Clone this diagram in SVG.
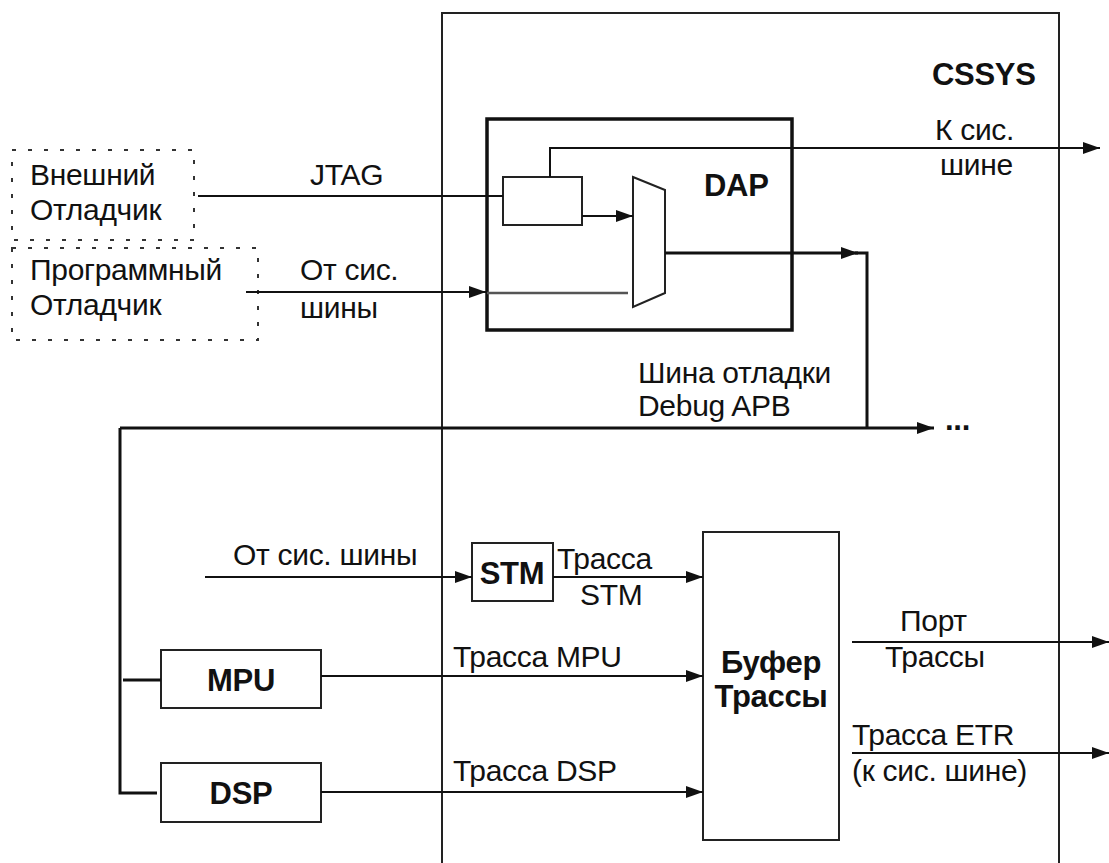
<svg xmlns="http://www.w3.org/2000/svg" width="1109" height="863" viewBox="0 0 1109 863">
<style>
text{font-family:"Liberation Sans",Arial,sans-serif;font-size:30px;fill:#111;letter-spacing:-0.3px}
.b{font-weight:bold;font-size:31px}
.ln{fill:none;stroke:#111;stroke-width:2}
.th{fill:none;stroke:#111;stroke-width:3}
.box{fill:#fff;stroke:#222;stroke-width:2}
.dash{fill:none;stroke:#333;stroke-width:2;stroke-dasharray:4 12}
</style>
<defs>
<marker id="ar" markerUnits="userSpaceOnUse" markerWidth="17" markerHeight="12" refX="17" refY="6" orient="auto"><path d="M0,0 L17,6 L0,12 z" fill="#111"/></marker>
</defs>
<rect width="1109" height="863" fill="#fff"/>
<g id="cssys"><rect x="442" y="13" width="617" height="900" class="box" fill="none"/><text x="932" y="85" class="b">CSSYS</text></g>
<g id="dap"><rect x="487" y="119" width="305" height="211" fill="none" stroke="#111" stroke-width="3.5"/><text x="704" y="196" class="b">DAP</text></g>
<g id="dap-port"><rect x="503" y="177" width="79" height="48" class="box"/></g>
<g id="mux"><polygon points="633,177 665,190 665,293 633,307" class="box"/></g>
<g id="ext-dbg"><rect x="12" y="150" width="182" height="90" class="dash"/><text x="30" y="185">Внешний</text><text x="30" y="220">Отладчик</text></g>
<g id="sw-dbg"><rect x="12" y="248" width="246" height="92" class="dash"/><text x="30" y="280">Программный</text><text x="30" y="315">Отладчик</text></g>
<g id="stm"><rect x="472" y="543" width="81" height="58" class="box"/><text x="512" y="584" class="b" text-anchor="middle">STM</text></g>
<g id="mpu"><rect x="161" y="650" width="160" height="58" class="box"/><text x="241" y="691" class="b" text-anchor="middle">MPU</text></g>
<g id="dsp"><rect x="161" y="763" width="160" height="59" class="box"/><text x="241" y="804" class="b" text-anchor="middle">DSP</text></g>
<g id="buffer"><rect x="703" y="532" width="136" height="308" class="box"/><text x="771" y="673" class="b" text-anchor="middle">Буфер</text><text x="771" y="707" class="b" text-anchor="middle">Трассы</text></g>
<g id="connectors">
<path d="M198,196 H503" class="ln"/>
<path d="M550,177 V148 H1100" class="ln" marker-end="url(#ar)"/>
<path d="M582,216 H633" class="ln" marker-end="url(#ar)"/>
<path d="M246,292 H486" class="ln" marker-end="url(#ar)"/>
<path d="M487,293 H628" fill="none" stroke="#555" stroke-width="2.5"/>
<path d="M665,253 H858" class="th" marker-end="url(#ar)"/>
<path d="M855,253 H867 V428" class="th"/>
<path d="M120,428 H934" class="th" marker-end="url(#ar)"/>
<path d="M120,428 V793 H157" class="th"/>
<path d="M123,680 H161" class="th"/>
<path d="M205,577 H472" class="ln" marker-end="url(#ar)"/>
<path d="M553,577 H703" class="ln" marker-end="url(#ar)"/>
<path d="M321,676 H703" class="ln" marker-end="url(#ar)"/>
<path d="M321,792 H703" class="ln" marker-end="url(#ar)"/>
<path d="M852,642 H1109" class="ln" marker-end="url(#ar)"/>
<path d="M852,753 H1109" class="ln" marker-end="url(#ar)"/>
</g>
<g id="labels">
<text x="310" y="185">JTAG</text>
<text x="300" y="280">От сис.</text>
<text x="300" y="318">шины</text>
<text x="935" y="140">К сис.</text>
<text x="940" y="175">шине</text>
<text x="638" y="383">Шина отладки</text>
<text x="638" y="416">Debug APB</text>
<text x="945" y="430" class="b">...</text>
<text x="233" y="565">От сис. шины</text>
<text x="557" y="569">Трасса</text>
<text x="580" y="605">STM</text>
<text x="453" y="667">Трасса MPU</text>
<text x="453" y="781">Трасса DSP</text>
<text x="900" y="631">Порт</text>
<text x="885" y="667">Трассы</text>
<text x="852" y="745">Трасса ETR</text>
<text x="852" y="781">(к сис. шине)</text>
</g>
</svg>
